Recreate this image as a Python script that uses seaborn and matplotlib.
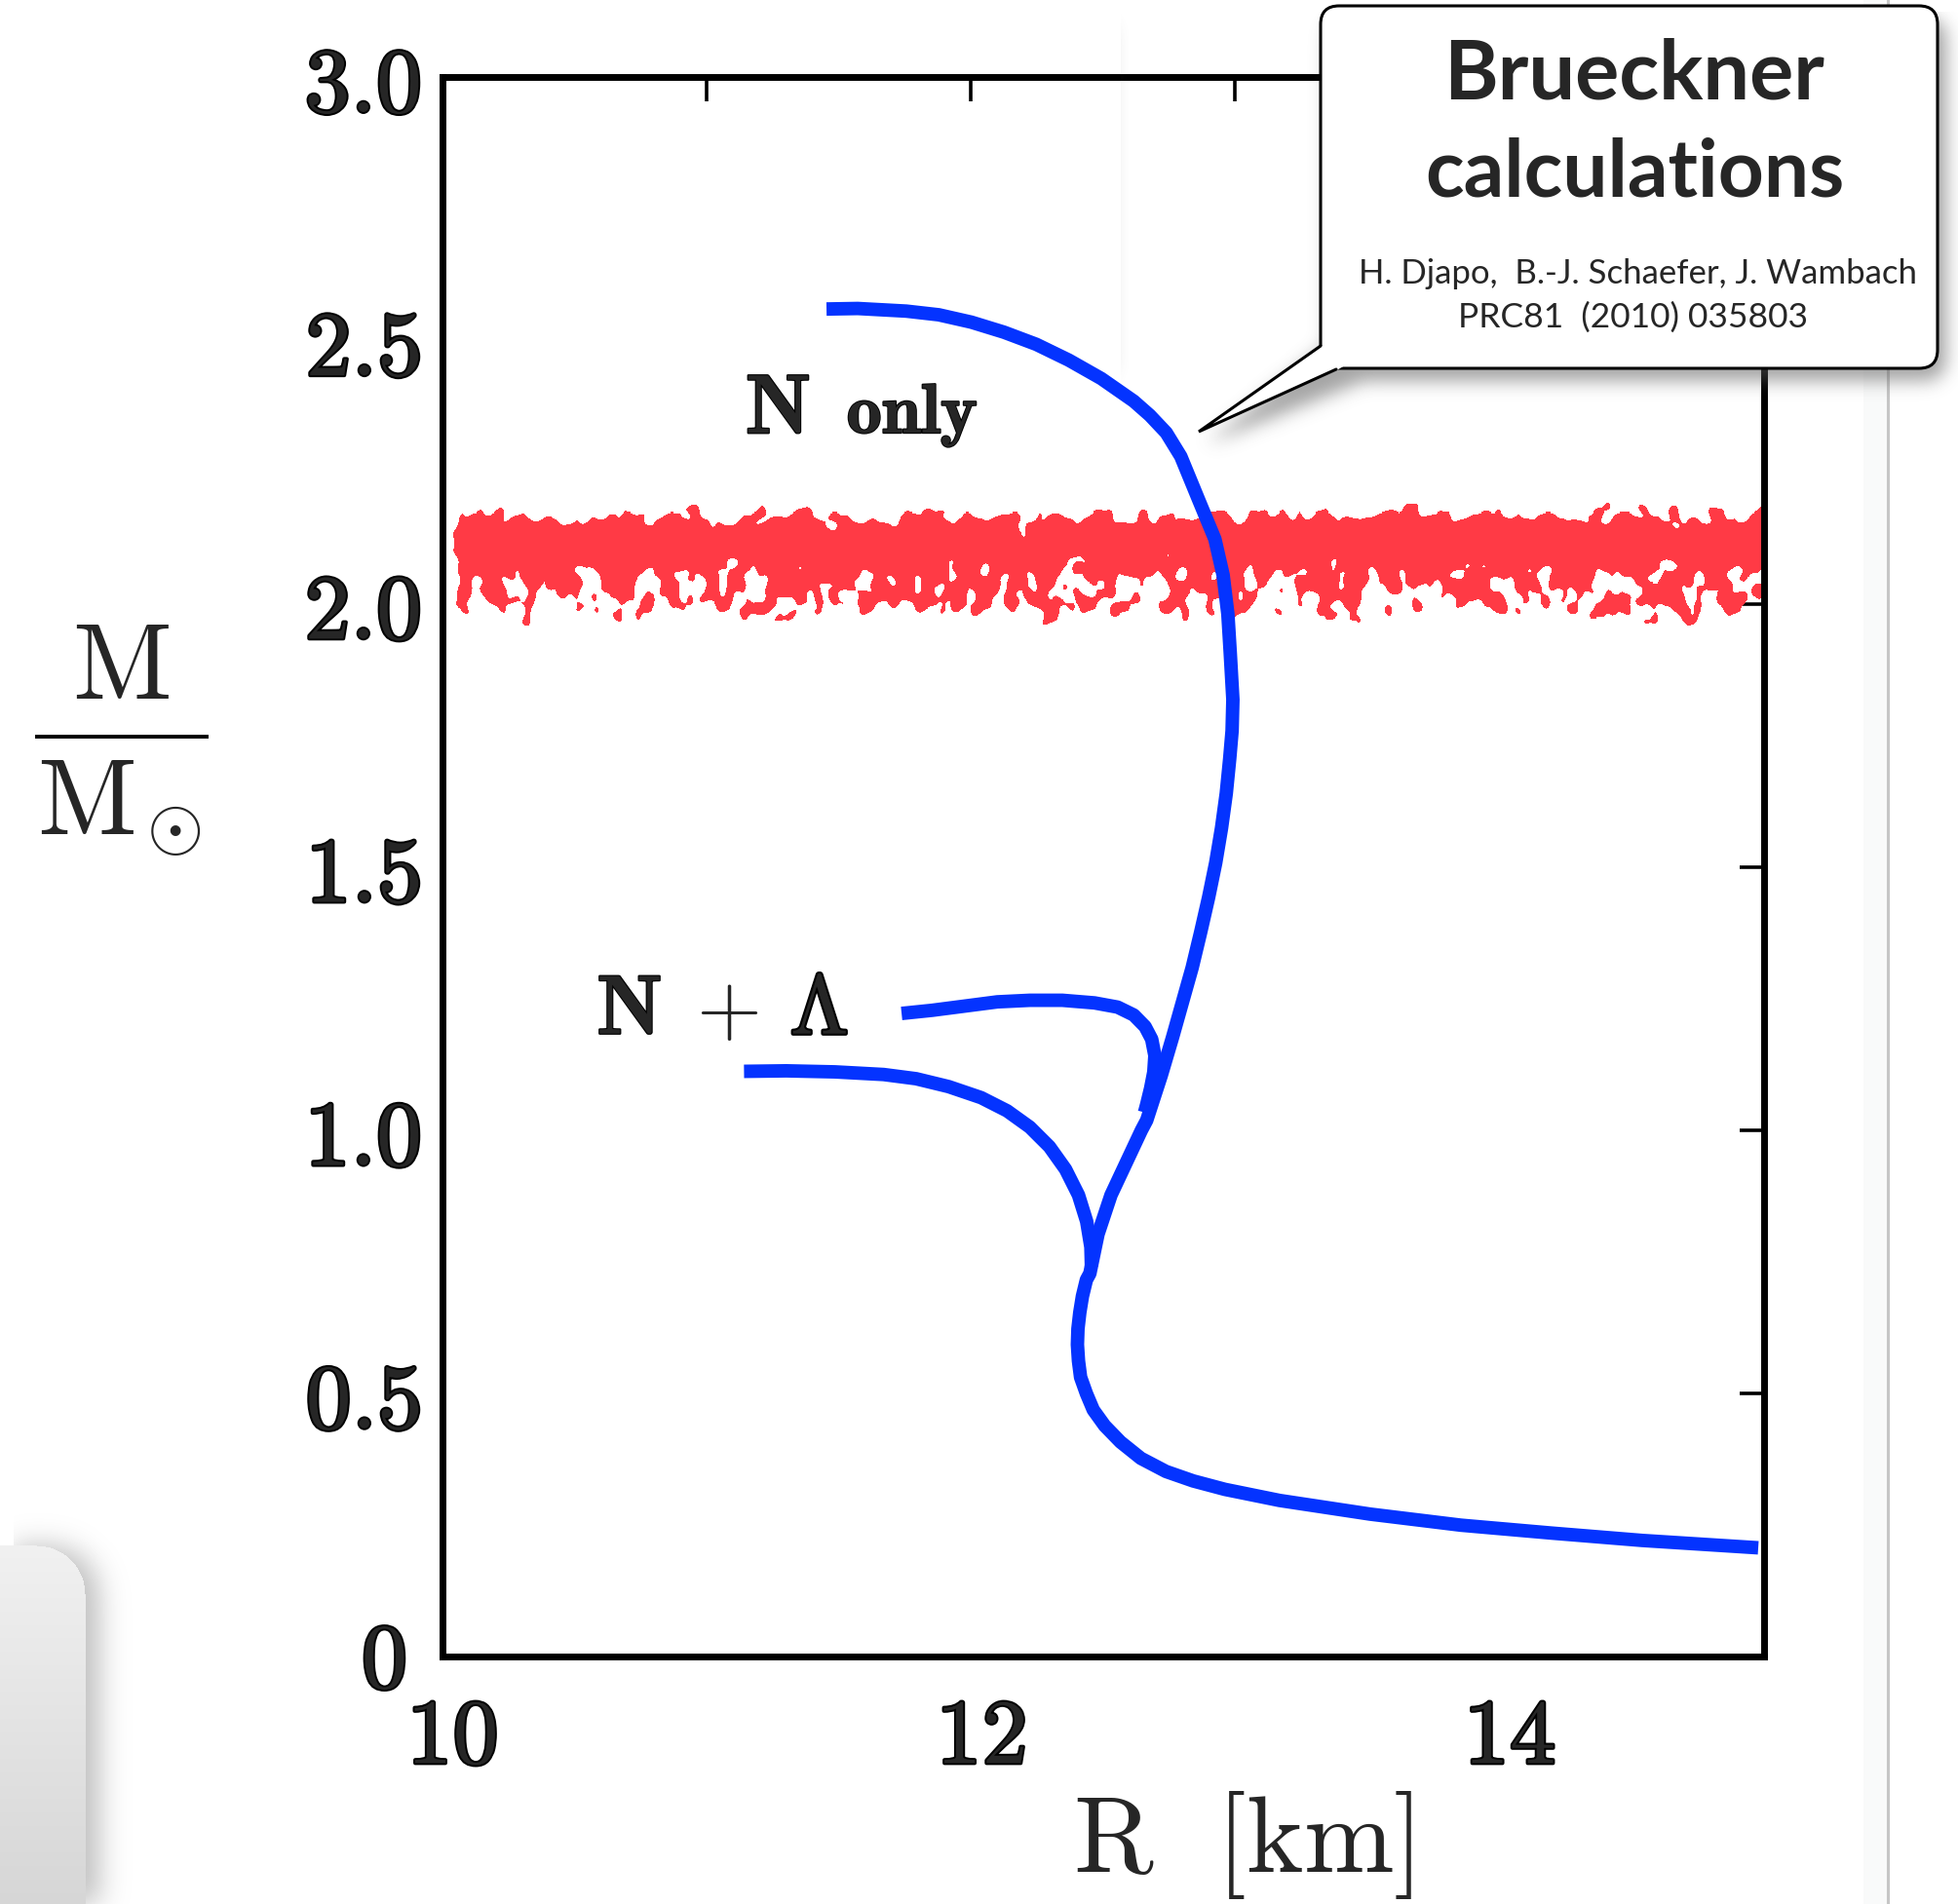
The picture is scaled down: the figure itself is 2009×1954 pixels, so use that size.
import numpy as np
import pandas as pd
import matplotlib
matplotlib.use("Agg")
import matplotlib.pyplot as plt
import matplotlib.patheffects as pe
import seaborn as sns
from matplotlib.patches import FancyBboxPatch, Polygon
from matplotlib.path import Path
from matplotlib.transforms import ScaledTranslation

# ---------------------------------------------------------------- data
# Mass-radius relation, nucleons only
nonly_R = [11.454, 11.572, 11.756, 11.879, 12.002, 12.125, 12.247, 12.370,
           12.493, 12.616, 12.677, 12.739, 12.794, 12.862, 12.923, 12.954,
           12.972, 12.981, 12.991, 12.988, 12.979, 12.966, 12.948, 12.926,
           12.899, 12.869, 12.837, 12.800, 12.763, 12.720, 12.665, 12.645,
           12.530, 12.481, 12.450, 12.437, 12.422, 12.412, 12.405, 12.403,
           12.407, 12.415, 12.437, 12.463, 12.506, 12.566, 12.643, 12.738,
           12.841, 12.961, 13.167, 13.510, 13.853, 14.196, 14.539, 14.978]
nonly_M = [2.560, 2.561, 2.556, 2.549, 2.535, 2.516, 2.493, 2.463,
           2.428, 2.385, 2.358, 2.325, 2.280, 2.197, 2.123, 2.055,
           1.981, 1.907, 1.818, 1.759, 1.706, 1.640, 1.574, 1.508,
           1.442, 1.376, 1.309, 1.243, 1.177, 1.104, 1.019, 1.000,
           0.877, 0.803, 0.728, 0.716, 0.685, 0.654, 0.623, 0.593,
           0.562, 0.531, 0.500, 0.469, 0.439, 0.408, 0.377, 0.352,
           0.334, 0.318, 0.297, 0.271, 0.250, 0.235, 0.221, 0.207]

# Nucleons + Lambda hyperons, two branches
nl_up_R = [11.738, 11.854, 11.977, 12.100, 12.223, 12.346, 12.468, 12.555,
           12.616, 12.659, 12.684, 12.696, 12.692, 12.680, 12.665, 12.657]
nl_up_M = [1.222, 1.228, 1.236, 1.244, 1.247, 1.247, 1.242, 1.234,
           1.219, 1.197, 1.173, 1.142, 1.111, 1.080, 1.049, 1.034]
nl_lo_R = [11.142, 11.302, 11.486, 11.670, 11.793, 11.916, 12.039, 12.137,
           12.223, 12.297, 12.358, 12.407, 12.438, 12.454, 12.456]
nl_lo_M = [1.112, 1.113, 1.111, 1.106, 1.098, 1.083, 1.062, 1.037,
           1.006, 0.969, 0.926, 0.877, 0.827, 0.778, 0.741]

# Observed 2 solar mass band
band_low, band_high = 1.97, 2.175
band_R = (10.02, 15.02)

x_ticks = [10, 11, 12, 13, 14, 15]
x_labels = ["10", "", "12", "", "14", ""]
y_ticks = [0, 0.5, 1.0, 1.5, 2.0, 2.5, 3.0]
y_labels = ["0", "0.5", "1.0", "1.5", "2.0", "2.5", "3.0"]

BLUE = "#0433ff"
RED = "#ff3a45"

# ---------------------------------------------------------------- helpers
def blur(a, sy, sx=None):
    sx = sy if sx is None else sx
    out = a.astype(float)
    for axis, s in ((0, sy), (1, sx)):
        r = int(3 * s) + 1
        k = np.exp(-0.5 * (np.arange(-r, r + 1) / s) ** 2)
        k /= k.sum()
        out = np.apply_along_axis(lambda v: np.convolve(v, k, mode="same"), axis, out)
    return out


def rounded_mask(X, Y, x0, y0, x1, y1, r):
    cx = np.clip(X, x0 + r, x1 - r)
    cy = np.clip(Y, y0 + r, y1 - r)
    inside = (X >= x0) & (X <= x1) & (Y >= y0) & (Y <= y1)
    return inside & ((X - cx) ** 2 + (Y - cy) ** 2 <= r ** 2)


def heavy(w):
    return [pe.withStroke(linewidth=w, foreground="black")]


# ---------------------------------------------------------------- figure
sns.set_style("white")
plt.rcParams["mathtext.fontset"] = "cm"
plt.rcParams["font.family"] = ["DejaVu Sans"]

W, H = 2009, 1954
fig = plt.figure(figsize=(W / 100, H / 100), dpi=100)
fig.patch.set_facecolor("white")

# background layer in pixel coordinates
bg = fig.add_axes([0, 0, 1, 1], zorder=0)
bg.set_xlim(0, W)
bg.set_ylim(H, 0)
bg.axis("off")

# slide edge on the right
bg.fill_between([1912, 1936], 0, H, color="#f9fafa", lw=0)
bg.plot([1937, 1937], [0, H], color="#c6c6c6", lw=2.2)

# rounded panel at the lower left with its shadow
gx0, gy0 = 0, 1480
Xg, Yg = np.meshgrid(np.arange(gx0, 200), np.arange(gy0, H))
pm = rounded_mask(Xg, Yg, -80, 1586, 87, H + 80, 50).astype(float)
sh = blur(pm, 14, 14)
sh = np.roll(sh, 14, axis=1)
sh_rgba = np.zeros(pm.shape + (4,))
sh_rgba[..., :3] = 0.55
sh_rgba[..., 3] = 0.55 * sh
bg.imshow(sh_rgba, extent=(gx0, 200, H, gy0), origin="upper", zorder=1,
          interpolation="bilinear")
grad = np.linspace(0.975, 0.84, pm.shape[0])[:, None] * np.ones((1, pm.shape[1]))
pan = np.zeros(pm.shape + (4,))
pan[..., 0] = grad
pan[..., 1] = grad
pan[..., 2] = grad
pan[..., 3] = pm
bg.imshow(pan, extent=(gx0, 200, H, gy0), origin="upper", zorder=2,
          interpolation="bilinear")

# y axis label drawn as a stacked fraction
bg.text(124, 717, r"$\mathrm{M}$", fontsize=80, ha="center", va="baseline")
bg.plot([36, 214], [756, 756], color="black", lw=2.8, solid_capstyle="butt")
bg.text(88, 856, r"$\mathrm{M}$", fontsize=80, ha="center", va="baseline")
bg.text(178, 852, r"$\odot$", fontsize=54, ha="center", va="center")

# ---------------------------------------------------------------- main axes
ax = fig.add_axes([453.6 / W, 1 - 1700.3 / H, 1356.4 / W, 1620.9 / H], zorder=1)
ax.set_facecolor("white")

# textured band
rng = np.random.default_rng(11)
nx, ny = 1370, 140
Rg = np.linspace(band_R[0] - 0.03, band_R[1], nx)
Mg = np.linspace(band_low - 0.03, band_high + 0.03, ny)
noise = blur(rng.standard_normal((ny, nx)), 5.2, 4.0)
noise /= noise.std()
kM = [1.945, band_low, 1.985, 2.000, 2.030, 2.060, 2.080, 2.100, 2.135, 2.150, 2.162, band_high, 2.200]
kV = [-4.0, -1.5, -0.45, 0.1, 0.45, 0.8, 1.8, 3.5, 3.5, 1.6, 0.4, -0.9, -4.0]
prof = np.interp(Mg, kM, kV)
left_pen = np.clip((10.075 - Rg) / 0.04, 0, None) * 3.0
field = noise + prof[:, None] - left_pen[None, :]
tex = np.zeros((ny, nx, 4))
tex[field > 0] = matplotlib.colors.to_rgba(RED)
ax.imshow(tex, extent=(Rg[0], Rg[-1], Mg[0], Mg[-1]), origin="lower",
          aspect="auto", interpolation="nearest", zorder=1)

# curves
curves = [(nonly_R, nonly_M), (nl_up_R, nl_up_M), (nl_lo_R, nl_lo_M)]
for R, M in curves:
    df = pd.DataFrame({"R": R, "M": M})
    sns.lineplot(data=df, x="R", y="M", sort=False, estimator=None, ax=ax,
                 color=BLUE, zorder=3)
for ln in ax.lines:
    ln.set_linewidth(10)
    ln.set_solid_capstyle("butt")
    ln.set_solid_joinstyle("round")

ax.set_xlim(10, 15)
ax.set_ylim(0, 3)
ax.set_xticks(x_ticks, labels=[rf"$\mathbf{{{t}}}$" if t else "" for t in x_labels])
ax.set_yticks(y_ticks, labels=[rf"$\mathbf{{{t}}}$" for t in y_labels])
ax.tick_params(direction="in", length=18, width=2.6, top=True, right=True,
               labelsize=68, color="black")
ax.tick_params(axis="x", pad=27)
ax.tick_params(axis="y", pad=16)
for lab in ax.get_xticklabels():
    lab.set_transform(lab.get_transform() + ScaledTranslation(0.10, 0, fig.dpi_scale_trans))
ylabs = ax.get_yticklabels()
ylabs[0].set_transform(ylabs[0].get_transform() + ScaledTranslation(-0.15, 0.04, fig.dpi_scale_trans))
for lab in ax.get_xticklabels() + ylabs:
    lab.set_path_effects(heavy(2.8))
for sp in ax.spines.values():
    sp.set_linewidth(5)
    sp.set_color("black")

ax.set_xlabel(r"$\mathrm{R}\ \ [\mathrm{km}]$", fontsize=80)
ax.xaxis.set_label_coords(0.606, -0.1195)
ax.xaxis.label.set_va("center")
ax.set_ylabel("")

# curve labels
ax.text(11.147, 2.324, r"$\mathbf{N}$", fontsize=62, va="baseline", ha="left",
        path_effects=heavy(1.6))
ax.text(11.530, 2.324, r"$\mathbf{only}$", fontsize=52, va="baseline", ha="left",
        path_effects=heavy(1.4))
ax.text(10.585, 1.183, r"$\mathbf{N}$", fontsize=62, va="baseline", ha="left",
        path_effects=heavy(1.6))
ax.text(10.960, 1.183, r"$+$", fontsize=62, va="baseline", ha="left")
ax.text(11.317, 1.183, r"$\Lambda$", fontsize=62, va="baseline", ha="left",
        path_effects=heavy(3.0))

# ---------------------------------------------------------------- callout
ov = fig.add_axes([0, 0, 1, 1], zorder=5)
ov.set_xlim(0, W)
ov.set_ylim(H, 0)
ov.axis("off")
ov.patch.set_alpha(0)

bx0, by0, bx1, by1, br = 1355, 6, 1988, 378, 19
tail = [(1355, 355), (1230, 443), (1371, 379)]

sx0, sy0 = 1150, 0
Xs, Ys = np.meshgrid(np.arange(sx0, W), np.arange(sy0, 520))
shape = rounded_mask(Xs, Ys, bx0, by0, bx1, by1, br)
tail_path = Path([(1356, 340), tail[1], (1390, 379), (1390, 340)])
pts = np.column_stack([Xs.ravel(), Ys.ravel()])
shape |= tail_path.contains_points(pts).reshape(Xs.shape)
shad = blur(shape.astype(float), 9, 9)
shad = np.roll(np.roll(shad, 12, axis=0), 8, axis=1)
srgba = np.zeros(shad.shape + (4,))
srgba[..., :3] = 0.35
srgba[..., 3] = 0.55 * shad
ov.imshow(srgba, extent=(sx0, W, 520, sy0), origin="upper", interpolation="bilinear", zorder=1)

ov.add_patch(FancyBboxPatch((bx0, by0), bx1 - bx0, by1 - by0,
                            boxstyle=f"round,pad=0,rounding_size={br}",
                            fc="white", ec="black", lw=2.2, zorder=2))
ov.add_patch(Polygon([(1353.2, 355), tail[1], (1371, 380.3), (1378, 376.2), (1378, 355)],
                     closed=True, fc="white", ec="none", zorder=3))
ov.plot([p[0] for p in tail], [p[1] for p in tail], color="black", lw=2.2,
        solid_joinstyle="miter", zorder=4)

ov.text(1677, 102, "Brueckner", fontsize=61, fontweight="bold", family="Lato",
        ha="center", va="baseline", zorder=5)
ov.text(1677, 201, "calculations", fontsize=59, fontweight="bold", family="Lato",
        ha="center", va="baseline", zorder=5)
ov.text(1680, 291, "H. Djapo,  B.-J. Schaefer, J. Wambach", fontsize=25, family="Lato",
        ha="center", va="baseline", zorder=5)
ov.text(1675, 336, "PRC81  (2010) 035803", fontsize=25.5, family="Lato",
        ha="center", va="baseline", zorder=5)

fig.savefig("out.png", dpi=100, facecolor="white")
